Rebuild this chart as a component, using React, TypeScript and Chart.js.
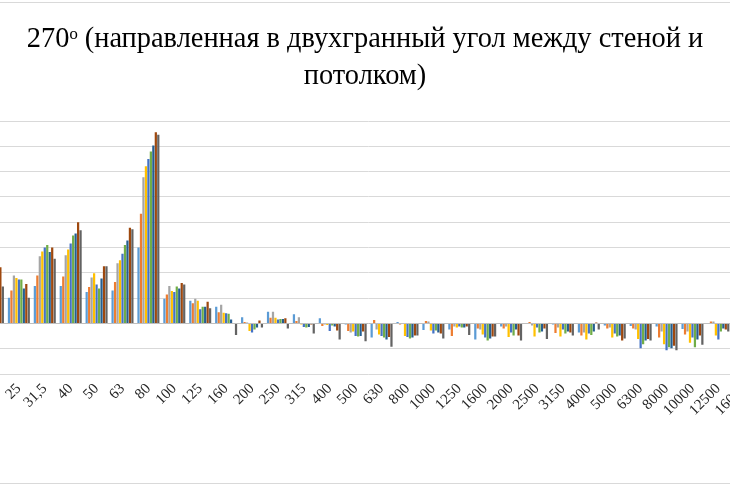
import React, { useRef, useEffect } from 'react';
import { Chart, registerables } from 'chart.js';

Chart.register(...registerables);

// third-octave bands, Hz
const bands = ['20', '25', '31,5', '40', '50', '63', '80', '100', '125', '160', '200', '250', '315', '400', '500', '630', '800', '1000', '1250', '1600', '2000', '2500', '3150', '4000', '5000', '6300', '8000', '10000', '12500', '16000'];

const series1 = [5.5, 5.1, 7.4, 7.4, 6.2, 6.5, 15.0, 4.9, 4.5, 3.3, 1.2, 2.3, 1.8, 1.0, -0.2, -2.8, 0.3, -1.3, -1.2, -3.2, -0.6, -0.1, -0.2, -1.8, -0.4, -0.5, -0.6, -1.1, 0.0, -0.8];
const series2 = [7.5, 6.5, 9.5, 9.3, 7.2, 8.2, 21.7, 5.7, 4.0, 2.2, 0.3, 1.1, 0.5, -0.5, -1.5, 0.7, -0.2, 0.5, -2.5, -1.0, -1.0, 0.3, -1.9, -2.4, -1.0, -1.0, -2.8, -2.2, 0.4, -1.2];
const series3 = [10.3, 9.5, 13.3, 13.5, 9.1, 11.9, 28.9, 7.4, 4.9, 3.7, 0.2, 2.3, 1.2, -0.2, -1.8, -1.2, 0.1, 0.4, -0.6, -1.2, -0.6, -0.4, -0.8, -1.8, -0.8, -1.2, -1.6, -1.6, 0.4, -0.6];
const series4 = [9.9, 9.0, 14.2, 14.6, 9.9, 12.5, 31.1, 6.4, 4.5, 2.1, -1.5, 1.1, -0.2, -0.3, -1.6, -2.2, -2.5, -1.4, -0.8, -2.2, -2.7, -2.6, -2.6, -3.2, -2.8, -3.1, -4.1, -3.8, -2.4, -1.6];
const series5 = [11.9, 8.7, 15.0, 15.8, 7.7, 13.8, 32.5, 6.2, 2.8, 2.0, -1.8, 0.8, -0.7, -1.5, -2.5, -2.5, -2.7, -2.0, -0.6, -2.8, -1.8, -0.8, -1.2, -2.0, -2.0, -4.9, -5.3, -2.8, -3.2, -2.0];
const series6 = [12.3, 8.7, 15.5, 17.4, 6.9, 15.5, 34.0, 7.3, 3.3, 1.9, -1.2, 0.9, -0.8, -0.4, -2.6, -2.8, -3.0, -1.4, -0.8, -3.4, -2.4, -1.8, -2.0, -2.3, -2.6, -4.1, -4.7, -4.7, -1.6, -1.2];
const series7 = [11.5, 6.9, 14.1, 17.8, 8.9, 16.4, 35.2, 6.9, 3.3, 0.8, -0.8, 0.9, -0.7, -0.6, -2.5, -3.2, -2.8, -1.8, -0.8, -3.0, -1.2, -1.6, -1.6, -1.6, -2.4, -3.4, -4.9, -3.2, -1.0, -1.4];
const series8 = [11.1, 7.8, 15.0, 20.0, 11.3, 18.9, 37.8, 8.0, 4.3, 0.1, 0.6, 1.0, -0.2, -1.4, -1.6, -2.7, -2.4, -2.0, -0.6, -2.6, -2.4, -1.0, -1.8, 0.2, -3.4, -3.1, -4.4, -2.4, -1.2, -1.0];
const series9 = [7.3, 5.1, 12.8, 18.4, 11.3, 18.6, 37.3, 7.7, 3.0, -2.3, -0.8, -1.0, -2.0, -3.2, -3.5, -4.6, -2.4, -3.0, -2.3, -2.6, -3.4, -3.1, -2.4, -1.2, -3.0, -3.4, -5.3, -4.2, -1.6, -1.8];

const seriesNames = ['1', '2', '3', '4', '5', '6', '7', '8', '9'];
const colors = ['#5B9BD5', '#ED7D31', '#A5A5A5', '#FFC000', '#4472C4', '#70AD47', '#255E91', '#9E480E', '#636363'];

const yMin = -10;
const yMax = 40;
const yStep = 5;

const titleLines = ['270ᵒ (направленная в двухгранный угол между стеной и', 'потолком)'];

const serif = '"Liberation Serif", "Times New Roman", serif';

const BarChart = () => {
  const chartRef = useRef<HTMLCanvasElement>(null);

  useEffect(() => {
    const ctx = chartRef.current!.getContext('2d')!;
    const values = [series1, series2, series3, series4, series5, series6, series7, series8, series9];
    const chart = new Chart(ctx, {
      type: 'bar',
      data: {
        labels: bands,
        datasets: values.map((data, i) => ({
          label: seriesNames[i],
          data,
          backgroundColor: colors[i],
          borderWidth: 0,
          barPercentage: 0.9,
          categoryPercentage: 0.86
        }))
      },
      options: {
        responsive: false,
        animation: false,
        layout: { padding: 0 },
        plugins: {
          legend: { display: false },
          tooltip: { enabled: false },
          title: {
            display: true,
            text: titleLines,
            color: '#000',
            font: { family: serif, size: 28.4, weight: 'normal', lineHeight: 1.27 },
            padding: { top: 22, bottom: 27 }
          }
        },
        scales: {
          x: {
            grid: { display: false, drawTicks: false },
            border: { display: false },
            ticks: {
              color: '#262626',
              font: { family: serif, size: 15 },
              minRotation: 45,
              maxRotation: 45,
              autoSkip: false,
              padding: 6
            },
            afterFit: (scale: any) => { scale.height = 112; }
          },
          y: {
            min: yMin,
            max: yMax,
            ticks: {
              stepSize: yStep,
              color: '#262626',
              font: { family: serif, size: 14 }
            },
            grid: {
              color: (c: any) => (c.tick && c.tick.value === 0 ? '#bfbfbf' : '#d9d9d9'),
              drawTicks: false
            },
            border: { display: false },
            afterFit: (scale: any) => { scale.width = 13; }
          }
        }
      }
    });

    return () => chart.destroy();
  }, []);

  return (
    <div style={{ position: 'fixed', left: 0, top: 0, width: 730, height: 486, overflow: 'hidden', background: '#fff' }}>
      <div style={{ position: 'absolute', left: 0, top: 2, width: 730, height: 1, background: '#d9d9d9' }} />
      <div style={{ position: 'absolute', left: 0, top: 483, width: 730, height: 1, background: '#d9d9d9' }} />
      <canvas ref={chartRef} width={796} height={486} style={{ position: 'absolute', left: -33, top: 0 }} />
    </div>
  );
};

export default function App() {
  return <BarChart />;
}
